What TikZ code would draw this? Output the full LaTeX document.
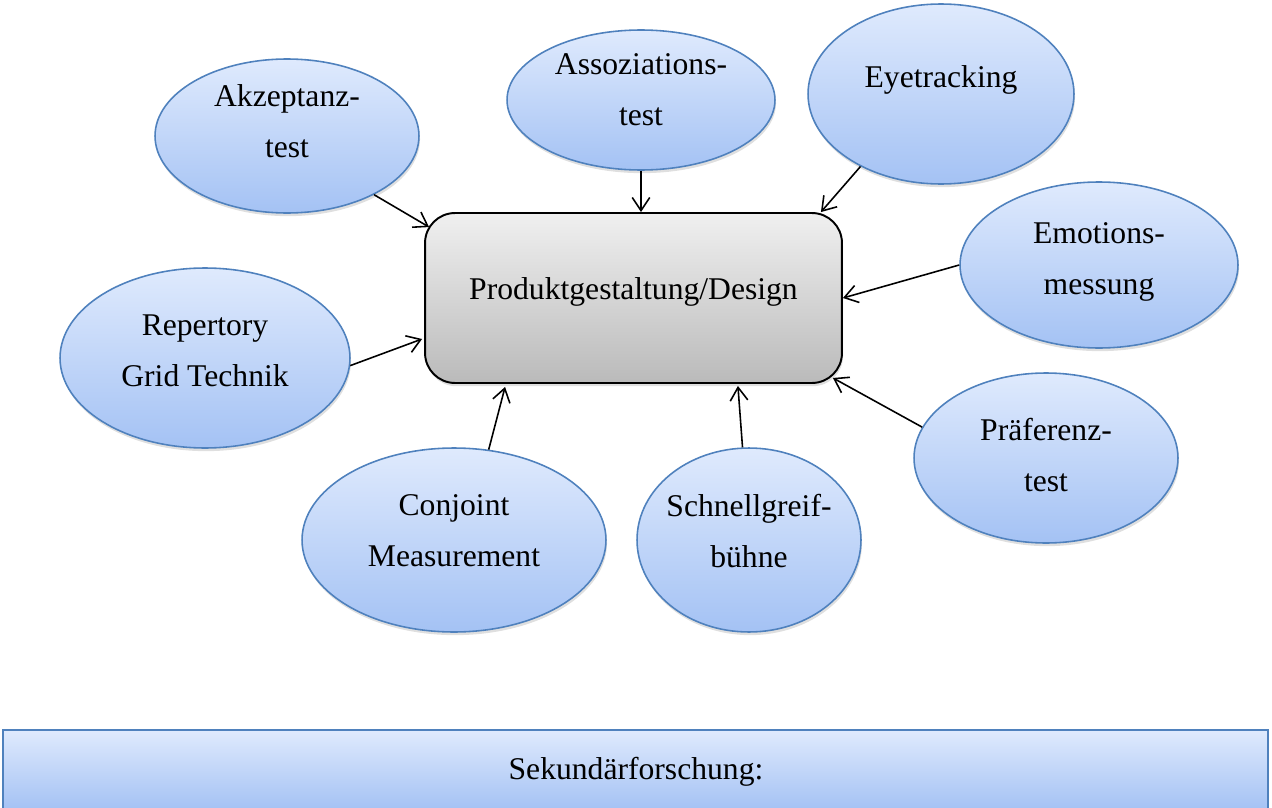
\documentclass[tikz,border=0pt]{standalone}
\usepackage{fontspec}
\setmainfont{Liberation Serif}
\usetikzlibrary{shapes.geometric,arrows.meta,calc,shadows}
\definecolor{ellborder}{HTML}{4F81BD}
\definecolor{elltop}{HTML}{DFEAFD}
\definecolor{ellbot}{HTML}{A4C2F4}

\begin{document}
\begin{tikzpicture}[x=0.02cm,y=-0.02cm,
  method/.style={ellipse, draw=ellborder, line width=0.9pt, top color=elltop, bottom color=ellbot, inner sep=0pt,
    drop shadow={shadow xshift=0.6pt, shadow yshift=-1.8pt, opacity=0.25}},
  lbl/.style={align=center, font=\fontsize{18}{29}\selectfont},
  arr/.style={-{Straight Barb[length=7.5pt,width=10pt]}, line width=0.9pt}]

\useasboundingbox (0,0) rectangle (1272,808);

% centre box
\path (633.5,298) node (design) [draw, line width=1.1pt, rounded corners=0.6cm, top color=black!6, bottom color=black!27,
  minimum width=8.34cm, minimum height=3.4cm, drop shadow={shadow xshift=0.6pt, shadow yshift=-1.8pt, opacity=0.25}] {};
\path (633.5,292) node (designT) [lbl] {Produktgestaltung/Design};

% methods round the box
\path (287,136) node (akz) [method, minimum width=5.28cm, minimum height=3.08cm] {};
\path (287,121) node (akzT) [lbl] {Akzeptanz-\\test};

\path (641,100) node (assoz) [method, minimum width=5.36cm, minimum height=2.8cm] {};
\path (641,90) node (assozT) [lbl] {Assoziations-\\test};

\path (941,94) node (eye) [method, minimum width=5.32cm, minimum height=3.6cm] {};
\path (941,80) node (eyeT) [lbl] {Eyetracking};

\path (1099,265) node (emo) [method, minimum width=5.56cm, minimum height=3.32cm] {};
\path (1099,262) node (emoT) [lbl] {Emotions-\\messung};

\path (205,358) node (rep) [method, minimum width=5.8cm, minimum height=3.6cm] {};
\path (205,351) node (repT) [lbl] {Repertory\\Grid Technik};

\path (454,540) node (conj) [method, minimum width=6.08cm, minimum height=3.68cm] {};
\path (454,531) node (conjT) [lbl] {Conjoint\\Measurement};

\path (749,540) node (schn) [method, minimum width=4.48cm, minimum height=3.68cm] {};
\path (749,531) node (schnT) [lbl] {Schnellgreif-\\bühne};

\path (1046,458) node (pref) [method, minimum width=5.28cm, minimum height=3.4cm] {};
\path (1046,455) node (prefT) [lbl] {Präferenz-\\test};

% arrows into the box
\draw[arr] (akz.-34) -- ($(design.north west)+(5,15)$);
\draw[arr] (assoz.south) -- (assoz.south |- design.north);
\draw[arr] (eye.222) -- ($(design.north east)+(-22,0)$);
\draw[arr] (emo.west) -- (design.east);
\draw[arr] (rep.-3) -- ($(design.west)+(-2,41)$);
\draw[arr] (conj.69) -- ($(design.south west)+(81,3)$);
\draw[arr] (schn.94) -- ($(design.south east)+(-105,2)$);
\draw[arr] (pref.166) -- ($(design.south east)+(-10,-6)$);

% bottom bar
\path (635.5,770) node (sek) [draw=ellborder, line width=0.9pt, top color=elltop, bottom color=ellbot,
  minimum width=25.3cm, minimum height=1.6cm] {};
\path (636,772) node (sekT) [lbl] {Sekundärforschung:};

\end{tikzpicture}
\end{document}
